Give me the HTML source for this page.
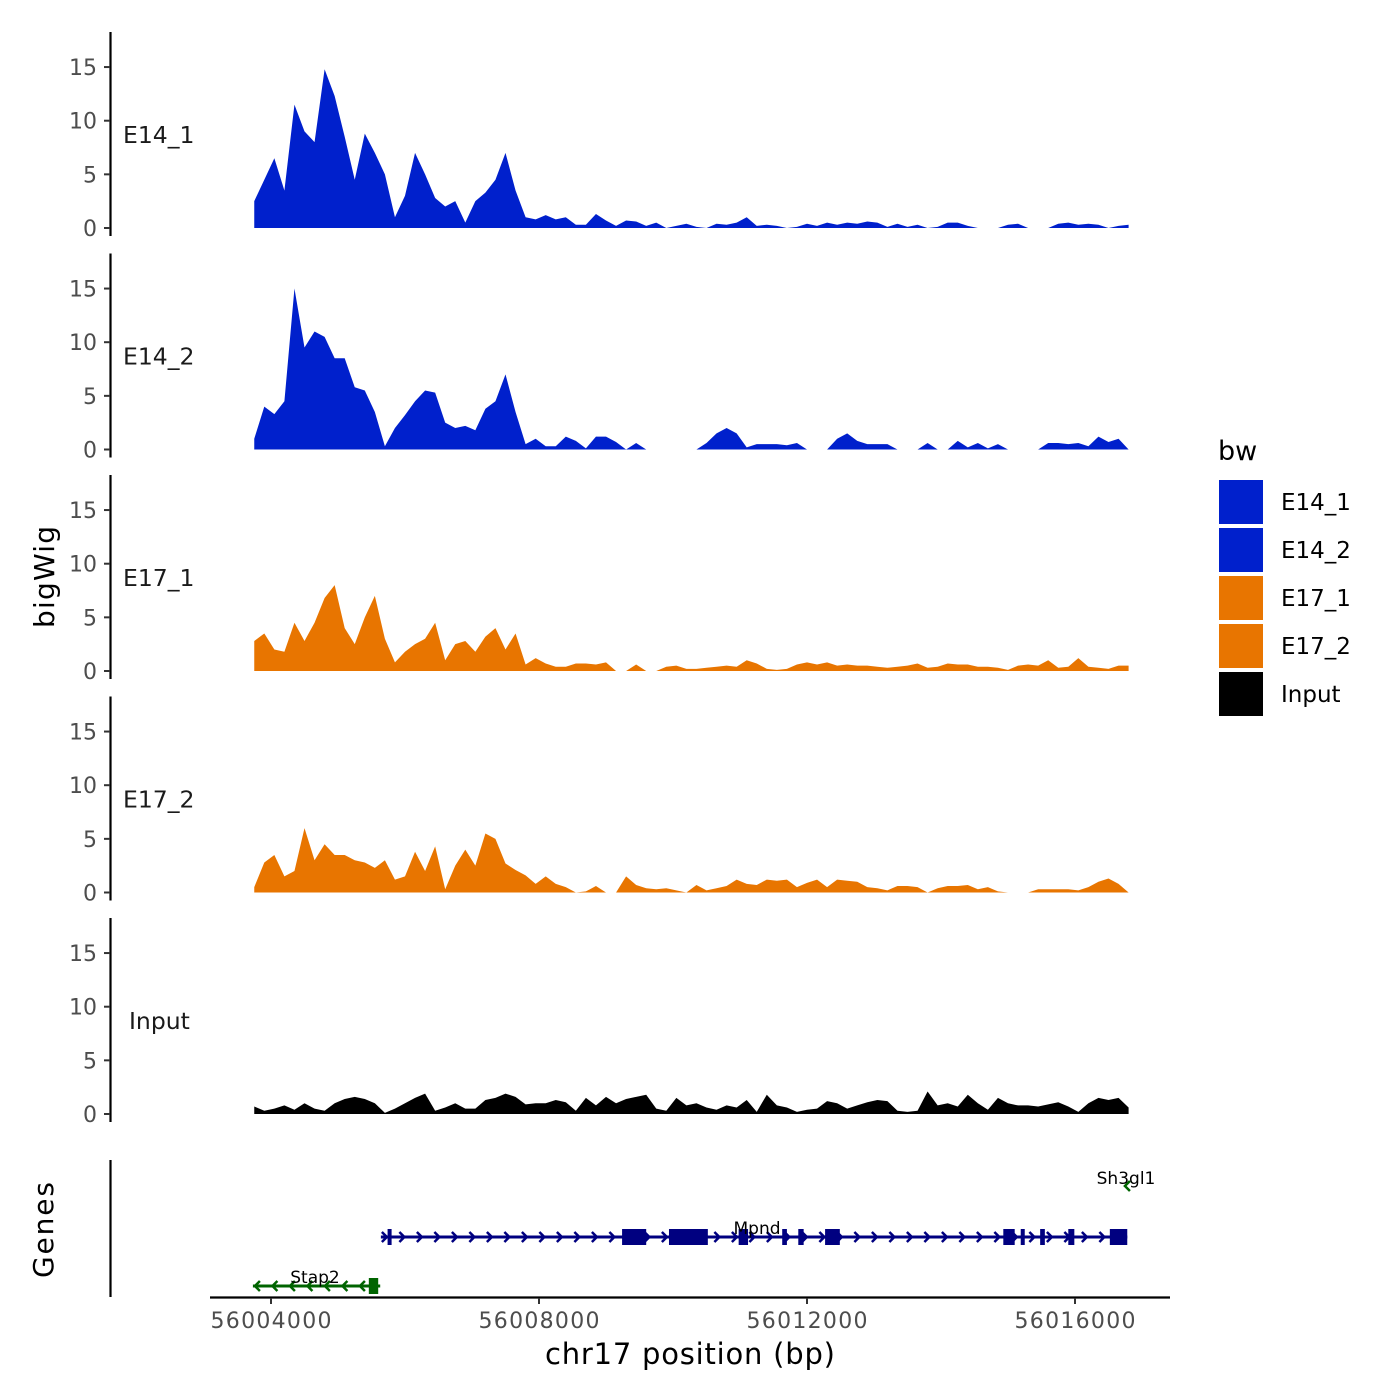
<!DOCTYPE html>
<html><head><meta charset="utf-8"><style>
body{margin:0;background:#fff}
svg{display:block;font-family:"DejaVu Sans","Liberation Sans",sans-serif}
</style></head><body>
<svg id="chart" width="1400" height="1400" viewBox="0 0 1400 1400">
<rect width="1400" height="1400" fill="#fff"/>
<g id="tracks"></g>
<g id="genes"></g>
<g id="xaxis"></g>
<text x="54" y="577" transform="rotate(-90 54 577)" text-anchor="middle" font-size="28" textLength="102">bigWig</text>
<text x="53" y="1230" transform="rotate(-90 53 1230)" text-anchor="middle" font-size="28" textLength="96">Genes</text>
<text x="690" y="1364" text-anchor="middle" font-size="29" textLength="290">chr17 position (bp)</text>
<g id="legend">
<text x="1218" y="460" font-size="27">bw</text>
</g>
</svg>
<script>
const gridStart = 56003750;
const gridStep = 150;
const trackNames = ["E14_1","E14_2","E17_1","E17_2","Input"];
const trackColors = ["#0020CC","#0020CC","#E87500","#E87500","#000000"];
const yTicks = [0,5,10,15];
const xTicks = [56004000,56008000,56012000,56016000];
const e14_1 = [2.5,4.5,6.5,3.5,11.5,9,8,14.8,12.3,8.5,4.5,8.8,7,5,1,3,7,5,2.8,2,2.5,0.5,2.5,3.3,4.5,7,3.5,1,0.8,1.2,0.8,1,0.3,0.3,1.3,0.7,0.2,0.7,0.6,0.2,0.5,0,0.2,0.4,0.1,0,0.4,0.3,0.5,1,0.2,0.3,0.2,0,0.1,0.4,0.2,0.5,0.3,0.5,0.4,0.6,0.5,0.1,0.4,0.1,0.3,0,0.1,0.5,0.5,0.2,0,0,0,0.3,0.4,0,0,0,0.4,0.5,0.3,0.4,0.3,0,0.2,0.3];
const e14_2 = [1,4,3.3,4.5,15,9.5,11,10.5,8.5,8.5,5.8,5.5,3.5,0.3,2,3.2,4.5,5.5,5.3,2.5,2,2.2,1.8,3.8,4.5,7,3.5,0.5,1,0.3,0.3,1.2,0.8,0.1,1.2,1.2,0.7,0,0.6,0,0,0,0,0,0,0.6,1.5,2,1.5,0.2,0.5,0.5,0.5,0.4,0.6,0,0,0,1,1.5,0.8,0.5,0.5,0.5,0,0,0,0.6,0,0,0.8,0.2,0.6,0.1,0.5,0,0,0,0,0.6,0.6,0.5,0.6,0.3,1.2,0.7,1,0];
const e17_1 = [2.8,3.5,2,1.8,4.5,2.8,4.5,6.8,8,4,2.5,5,7,3,0.8,1.8,2.5,3,4.5,1,2.5,2.8,1.8,3.2,4,2,3.5,0.6,1.2,0.7,0.4,0.4,0.7,0.7,0.6,0.8,0,0,0.6,0,0,0.4,0.5,0.2,0.2,0.3,0.4,0.5,0.4,1,0.7,0.2,0.1,0.2,0.6,0.8,0.6,0.8,0.5,0.6,0.5,0.5,0.4,0.3,0.4,0.5,0.7,0.3,0.4,0.7,0.6,0.6,0.4,0.4,0.3,0.1,0.5,0.6,0.5,1,0.3,0.4,1.2,0.4,0.3,0.2,0.5,0.5];
const e17_2 = [0.5,2.8,3.5,1.5,2,6,3,4.5,3.5,3.5,3,2.8,2.3,3,1.2,1.5,3.8,2,4.3,0.3,2.5,4,2.5,5.5,5,2.7,2.1,1.6,0.8,1.5,0.8,0.5,0,0.1,0.6,0,0,1.5,0.7,0.4,0.3,0.4,0.2,0,0.7,0.2,0.4,0.6,1.2,0.8,0.7,1.2,1.1,1.2,0.5,0.9,1.2,0.5,1.2,1.1,1,0.5,0.4,0.2,0.6,0.6,0.5,0,0.4,0.6,0.6,0.7,0.3,0.5,0.1,0,0,0,0.3,0.3,0.3,0.3,0.2,0.5,1,1.3,0.8,0];
const input = [0.7,0.3,0.5,0.8,0.4,1,0.5,0.3,1,1.4,1.6,1.4,1,0.1,0.5,1,1.5,1.9,0.3,0.6,1,0.5,0.5,1.3,1.5,1.9,1.6,0.9,1,1,1.3,1.1,0.3,1.5,0.8,1.6,1,1.4,1.6,1.8,0.5,0.3,1.5,0.8,1,0.6,0.4,0.8,0.6,1.3,0.2,1.8,0.8,0.6,0.2,0.4,0.5,1.2,1,0.5,0.8,1.1,1.3,1.2,0.3,0.2,0.3,2.1,0.8,1,0.7,1.8,1,0.4,1.5,1,0.8,0.8,0.7,0.9,1.1,0.7,0.2,1,1.5,1.3,1.5,0.6];
const trackValues = [e14_1,e14_2,e17_1,e17_2,input];
const mpndSpan = [56005640,56016780];
const mpndExons = [[56005740,56005800],[56009240,56009600],[56009940,56010520],[56010980,56011120],[56011630,56011700],[56011870,56011950],[56012270,56012490],[56014930,56015100],[56015190,56015250],[56015480,56015550],[56015900,56015990],[56016520,56016780]];
const stap2Span = [56003730,56005630];
const stap2Exons = [[56005460,56005600]];
const sh3gl1Pos = 56016790;

const NS="http://www.w3.org/2000/svg";
function mk(tag, attrs, parent){const e=document.createElementNS(NS,tag);for(const k in attrs)e.setAttribute(k,attrs[k]);parent.appendChild(e);return e;}
function xScale(bp){return 271 + (bp-56004000)*0.067;}
const panelBase = 228, panelStep = 221.5, unitPx = 10.73;
function yScale(v,p){return panelBase + p*panelStep - v*unitPx;}

const tracks=document.getElementById('tracks');
trackNames.forEach((name,p)=>{
  const g=mk('g',{},tracks);
  
  
  const vals=trackValues[p];
  let d='M'+xScale(gridStart).toFixed(2)+','+yScale(0,p).toFixed(2);
  vals.forEach((v,i)=>{d+=' L'+xScale(gridStart+i*gridStep).toFixed(2)+','+yScale(v,p).toFixed(2);});
  d+=' L'+xScale(gridStart+(vals.length-1)*gridStep).toFixed(2)+','+yScale(0,p).toFixed(2)+' Z';
  const area=mk('path',{d:d,fill:trackColors[p]},g);
  
  
  const ax=mk('line',{x1:110.5,x2:110.5,y1:32+p*panelStep,y2:236+p*panelStep,stroke:'#000','stroke-width':2.2},g);
  
  
  yTicks.forEach(t=>{
    const y=yScale(t,p);
    const tk=mk('line',{x1:104,x2:110,y1:y,y2:y,stroke:'#333','stroke-width':2},g);
    
    
    const lb=mk('text',{x:97,y:y+8,'text-anchor':'end','font-size':22,fill:'#4d4d4d'},g);
    lb.textContent=t;
    
    
  });
  const lab=mk('text',{x:name==='Input'?129:123,y:143+p*panelStep,'font-size':23.5,fill:'#1a1a1a'},g);
  lab.textContent=name;
  
  
});

// genes
const genes=document.getElementById('genes');
const gax=mk('line',{x1:110.5,x2:110.5,y1:1160,y2:1297,stroke:'#000','stroke-width':2.2},genes);


function drawGene(name,span,exons,y,color,dir,labelX,labelY){
  const g=mk('g',{},genes);
  
  
  const x1=xScale(span[0]),x2=xScale(span[1]);
  const ln=mk('line',{x1:x1,x2:x2,y1:y,y2:y,stroke:color,'stroke-width':3},g);
  
  
  for(let x=x1+4;x<x2-2;x+=17.5){
    const d=dir>0?`M${x-3},${y-5} L${x+2},${y} L${x-3},${y+5}`:`M${x+3},${y-5} L${x-2},${y} L${x+3},${y+5}`;
    const a=mk('path',{d:d,stroke:color,'stroke-width':2.5,fill:'none'},g);
    
    
  }
  exons.forEach(e=>{
    const r=mk('rect',{x:xScale(e[0]),y:y-8,width:Math.max(4,xScale(e[1])-xScale(e[0])),height:16,fill:color},g);
    
    
  });
  const t=mk('text',{x:labelX,y:labelY,'text-anchor':'middle','font-size':17,fill:'#000'},g);
  t.textContent=name;
  
  
}
drawGene('Mpnd',mpndSpan,mpndExons,1237,'#000080',1,757,1234);
drawGene('Stap2',stap2Span,stap2Exons,1286,'#006400',-1,315,1283);
const shg=mk('g',{},genes);


const sx=xScale(sh3gl1Pos);
mk('path',{d:`M${sx+2},${1181} L${sx-3},${1186} L${sx+2},${1191}`,stroke:'#006400','stroke-width':2.5,fill:'none'},shg);
const st=mk('text',{x:1126,y:1184,'text-anchor':'middle','font-size':17},shg);
st.textContent='Sh3gl1';



// x axis
const xa=document.getElementById('xaxis');
const xl=mk('line',{x1:210,x2:1170,y1:1297.5,y2:1297.5,stroke:'#000','stroke-width':2.2},xa);


xTicks.forEach(t=>{
  const x=xScale(t);
  const tk=mk('line',{x1:x,x2:x,y1:1298,y2:1304,stroke:'#333','stroke-width':2},xa);
  
  
  const lb=mk('text',{x:x,y:1328,'text-anchor':'middle','font-size':22,textLength:121,fill:'#4d4d4d'},xa);
  lb.textContent=t;
  
  
});

// legend
const lg=document.getElementById('legend');
trackNames.forEach((n,i)=>{
  const r=mk('rect',{x:1219,y:480+i*48,width:44,height:44,fill:trackColors[i]},lg);
  
  
  const t=mk('text',{x:1281,y:510+i*48,'font-size':23},lg);
  t.textContent=n;
  
  
});
</script>
</body></html>
